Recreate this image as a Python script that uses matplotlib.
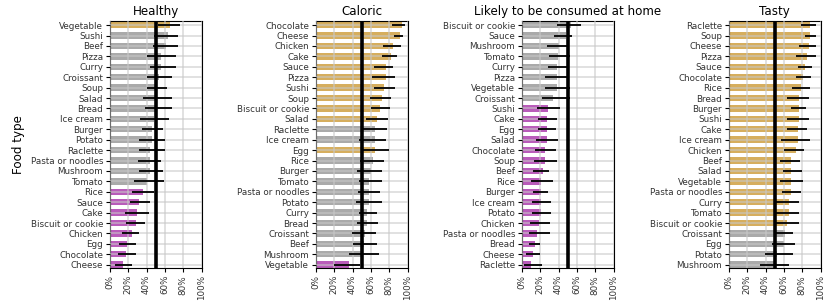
import numpy as np
import matplotlib.pyplot as plt

# %%
# Anteil der Antworten (%), mit Konfidenzintervall (lo, hi)
healthy_food = ['Vegetable', 'Sushi', 'Beef', 'Pizza', 'Curry', 'Croissant', 'Soup', 'Salad',
                'Bread', 'Ice cream', 'Burger', 'Potato', 'Raclette', 'Pasta or noodles',
                'Mushroom', 'Tomato', 'Rice', 'Sauce', 'Cake', 'Biscuit or cookie', 'Chicken',
                'Egg', 'Chocolate', 'Cheese']
healthy_val = [66, 63, 61, 56, 56, 53.5, 51, 50.5, 49.5, 48, 46, 46, 44, 43.5, 43.5, 40,
               36, 31.5, 29, 28, 24, 19, 17.5, 14.5]
healthy_lo = [53, 48.5, 46.5, 40, 44, 40.6, 40.6, 36, 38, 33, 35, 31.5, 31.5, 31, 31.5, 26,
              24, 22, 16.5, 18, 13.5, 10, 9, 5]
healthy_hi = [77, 74, 74, 72, 72, 68, 62, 68, 68, 64, 58, 60, 60, 56, 58, 58.6,
              48, 43.5, 42.5, 38, 32, 28.6, 28, 24]

caloric_food = ['Chocolate', 'Cheese', 'Chicken', 'Cake', 'Sauce', 'Pizza', 'Sushi', 'Soup',
                'Biscuit or cookie', 'Salad', 'Raclette', 'Ice cream', 'Egg', 'Rice', 'Burger',
                'Tomato', 'Pasta or noodles', 'Potato', 'Curry', 'Bread', 'Croissant', 'Beef',
                'Mushroom', 'Vegetable']
caloric_val = [94.5, 92, 84, 82, 76, 76, 74.5, 72, 70, 66.4, 64, 64, 64, 62, 60, 58, 58, 58,
               56, 56, 54, 52, 50, 36]
caloric_lo = [83.6, 84.7, 73.4, 72.3, 63.5, 61.7, 63.5, 59.5, 60, 54.4, 49.5, 47, 51, 47.8,
              44.5, 47, 46, 43.4, 47, 44.5, 39.4, 40, 36, 19.3]
caloric_hi = [97.4, 95.6, 92.7, 88.3, 84.3, 86.5, 86.5, 82, 81.4, 78.5, 77.4, 76, 79.6, 74.5,
              72.3, 72.3, 70, 72.3, 66.4, 68, 65.3, 66.4, 69, 48]

home_food = ['Biscuit or cookie', 'Sauce', 'Mushroom', 'Tomato', 'Curry', 'Pizza', 'Vegetable',
             'Croissant', 'Sushi', 'Cake', 'Egg', 'Salad', 'Chocolate', 'Soup', 'Beef', 'Rice',
             'Burger', 'Ice cream', 'Potato', 'Chicken', 'Pasta or noodles', 'Bread', 'Cheese',
             'Raclette']
home_val = [54, 48.5, 40, 39, 38, 38, 38, 34, 28, 27, 27, 27, 24.6, 24.6, 22.5, 20.3, 20.3,
            20.3, 20.3, 18.5, 16.3, 14, 12.3, 10]
home_lo = [38.4, 35.5, 27, 29, 28, 25, 25, 21.4, 16, 17.4, 17.4, 15.6, 14, 13.4, 12.3, 9.8,
           12.3, 10.5, 10.5, 8.7, 7.6, 7.6, 4.3, 2]
home_hi = [65, 55, 51, 52, 51, 51, 52, 52, 42, 38, 37, 39, 37, 38, 30, 34, 28, 32, 32, 31,
           31, 20, 20, 22]

tasty_food = ['Raclette', 'Soup', 'Cheese', 'Pizza', 'Sauce', 'Chocolate', 'Rice', 'Bread',
              'Burger', 'Sushi', 'Cake', 'Ice cream', 'Chicken', 'Beef', 'Salad', 'Vegetable',
              'Pasta or noodles', 'Curry', 'Tomato', 'Biscuit or cookie', 'Croissant', 'Egg',
              'Potato', 'Mushroom']
tasty_val = [89, 89, 87, 85, 83, 81, 79, 77, 77, 77, 75, 75, 73.5, 67.3, 67.3, 67.3, 67.3,
             65.5, 65.5, 63.3, 61.5, 59.6, 52.7, 49.8]
tasty_lo = [79, 83, 76.4, 73.5, 75, 73.5, 68.4, 63.3, 67.3, 63.3, 63.3, 56.7, 60.4, 55.6,
            59.3, 55.6, 57.5, 51.6, 50.5, 50.5, 49.5, 46.5, 39.6, 34]
tasty_hi = [95.3, 95.3, 95.3, 95.3, 91, 90, 88.4, 87.3, 84.4, 87.3, 85, 88.4, 82, 77.5, 80,
            81, 78.2, 77, 76.4, 76.4, 69.5, 72.4, 69.5, 65.5]

# %%
panels = [
    ('Healthy', healthy_food, healthy_val, healthy_lo, healthy_hi),
    ('Caloric', caloric_food, caloric_val, caloric_lo, caloric_hi),
    ('Likely to be consumed at home', home_food, home_val, home_lo, home_hi),
    ('Tasty', tasty_food, tasty_val, tasty_lo, tasty_hi),
]

gold = '#d6ae5e'
purple = '#b95cba'
grey = '#aaaaaa'

fig = plt.figure(figsize=(8.31, 3.06), dpi=100)
lefts = [110, 316, 522, 729]

for i, (title, food, val, lo, hi) in enumerate(panels):
    ax = fig.add_axes([lefts[i] / 831, 38 / 306, 91.5 / 831, 247.5 / 306])
    val = np.array(val) / 100
    lo = np.array(lo) / 100
    hi = np.array(hi) / 100
    y = np.arange(len(food))

    # Farbe je nach Lage des Intervalls zu 50%
    colors = [gold if l > 0.5 else (purple if h < 0.5 else grey) for l, h in zip(lo, hi)]

    ax.barh(y, val, height=0.62, color=colors, zorder=1)
    ax.grid(True, color='#c8c8c8', alpha=0.7, linewidth=1.1, zorder=2)
    ax.set_axisbelow(False)
    ax.hlines(y, lo, hi, color='black', linewidth=1.3, zorder=4)
    ax.axvline(0.5, color='black', linewidth=2.6, zorder=5)

    ax.set_yticks(y)
    ax.set_yticklabels(food, fontsize=6.3, color='#333333')
    ax.set_xlim(0, 1)
    ax.set_ylim(len(food) - 1 + 0.32, -0.44)
    ax.set_xticks(np.linspace(0, 1, 6))
    ax.set_xticklabels(['0%', '20%', '40%', '60%', '80%', '100%'], rotation=90,
                       fontsize=6.3, color='#333333')
    ax.tick_params(length=3, width=0.8, pad=2)
    ax.set_title(title, fontsize=8.6, pad=4)
    if i == 0:
        ax.set_ylabel('Food type', fontsize=8.6, labelpad=4)

plt.savefig('out.png', dpi=100)
